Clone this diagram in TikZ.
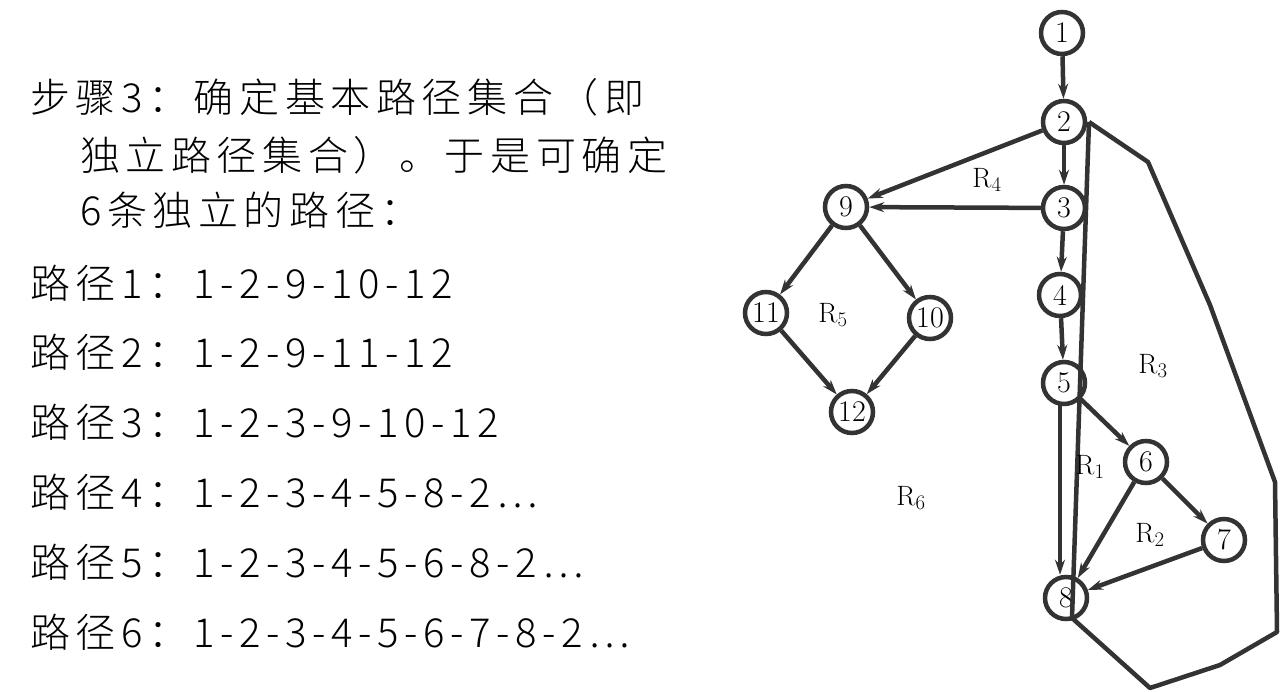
\documentclass[tikz,border=0pt]{standalone}
\usepackage{fontspec}
\newfontfamily\cjk{Noto Sans CJK SC Light}[LetterSpace=14]
\usetikzlibrary{arrows.meta}
\begin{document}
\begin{tikzpicture}[x=1pt,y=-1pt,
  v/.style={circle,draw=black!80,line width=4.5pt,minimum size=42pt,inner sep=0pt,font=\fontsize{30}{30}\selectfont},
  e/.style={draw=black!80,line width=4.5pt,-{Stealth[length=15pt,width=10pt]}},
  ln/.style={draw=black!80,line width=4.5pt},
  rl/.style={font=\fontsize{28}{28}\selectfont},
  tx/.style={anchor=west,font=\cjk\fontsize{40}{40}\selectfont,inner sep=0pt}]
\useasboundingbox (0,0) rectangle (1280,691);
\node[tx] (t1) at (30,97) {步骤3：确定基本路径集合（即};
\node[tx] (t2) at (80,155) {独立路径集合）。于是可确定};
\node[tx] (t3) at (80,210) {6条独立的路径：};
\node[tx] (p1) at (30,283) {路径1：1-2-9-10-12};
\node[tx] (p2) at (30,352) {路径2：1-2-9-11-12};
\node[tx] (p3) at (30,422) {路径3：1-2-3-9-10-12};
\node[tx] (p4) at (30,492) {路径4：1-2-3-4-5-8-2…};
\node[tx] (p5) at (30,562) {路径5：1-2-3-4-5-6-8-2…};
\node[tx] (p6) at (30,632) {路径6：1-2-3-4-5-6-7-8-2…};
\node[v] (n1) at (1062,33) {1};
\node[v] (n2) at (1064,122) {2};
\node[v] (n3) at (1064,208) {3};
\node[v] (n4) at (1060,295) {4};
\node[v] (n5) at (1064,383) {5};
\node[v] (n6) at (1146,462) {6};
\node[v] (n7) at (1224,540) {7};
\node[v] (n8) at (1066,598) {8};
\node[v] (n9) at (846,207) {9};
\node[v] (n10) at (930,318) {10};
\node[v] (n11) at (766,313) {11};
\node[v] (n12) at (852,412) {12};
\draw[e] (n1)--(n2);
\draw[e] (n2)--(n3);
\draw[e] (n3)--(n4);
\draw[e] (n4)--(n5);
\draw[e] (n5)--(n6);
\draw[e] (n6)--(n7);
\draw[e] (n7)--(n8);
\draw[e] (n6)--(n8);
\coordinate (a5) at (1060,404);
\draw[e] (a5)--(a5|-n8.north);
\draw[e] (n2)--(n9);
\draw[e] (n3)--(n9);
\draw[e] (n9)--(n11);
\draw[e] (n9)--(n10);
\draw[e] (n11)--(n12);
\draw[e] (n10)--(n12);
\coordinate (b8) at (1072,618);
\coordinate (t2r) at (1089,122);
\draw[ln] (b8)--(t2r);
\draw[ln,line join=round] (t2r)--(1148,162)--(1210,305)--(1275,482)--(1277,632)--(1220,665)--(1150,688)--(b8);
\node[rl] (r4) at (987,180) {R$_4$};
\node[rl] (r5) at (833,315) {R$_5$};
\node[rl] (r3) at (1153,366) {R$_3$};
\node[rl] (r1) at (1090,467) {R$_1$};
\node[rl] (r2) at (1150,535) {R$_2$};
\node[rl] (r6) at (911,498) {R$_6$};
\end{tikzpicture}
\end{document}
